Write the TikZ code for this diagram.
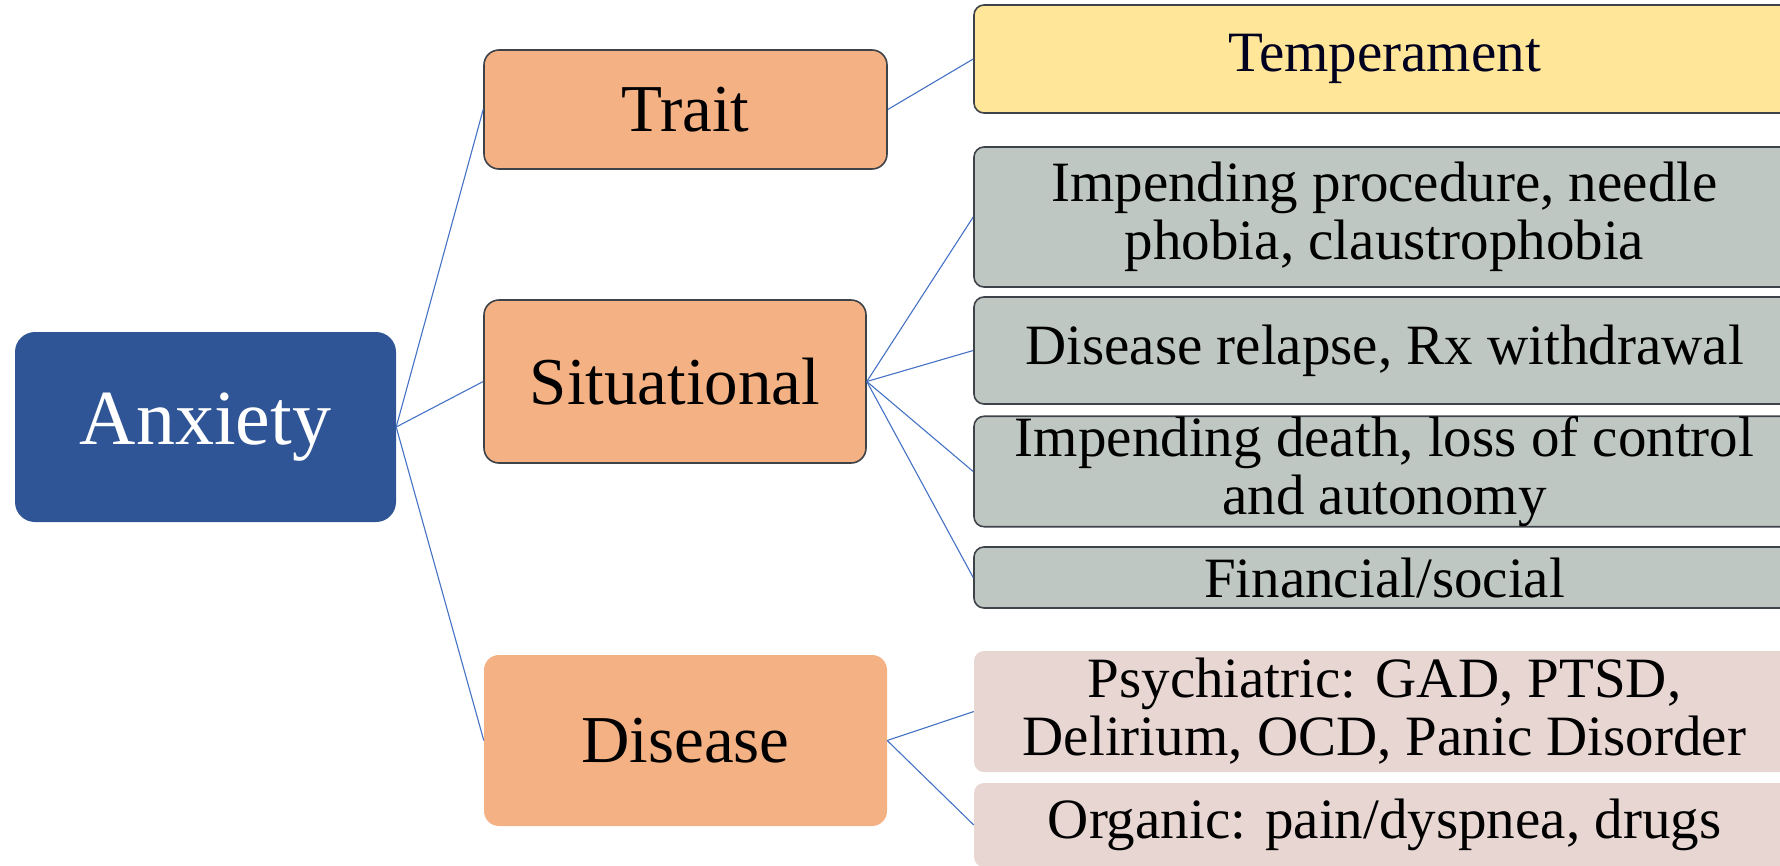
\documentclass[tikz,border=0pt]{standalone}
\usepackage{fontspec}
\setmainfont{Liberation Serif}
\definecolor{rootblue}{HTML}{2F5597}
\definecolor{catorange}{HTML}{F4B183}
\definecolor{tempyellow}{HTML}{FFE699}
\definecolor{sitgray}{HTML}{BFC7C3}
\definecolor{dispink}{HTML}{E8D6D3}
\definecolor{edgedark}{HTML}{3E434A}
\definecolor{linkblue}{HTML}{4472C4}
\begin{document}
\begin{tikzpicture}[x=1pt,y=-1pt,
  box/.style={rectangle, inner sep=0pt, align=center, anchor=center},
  rootbox/.style={box, fill=rootblue, rounded corners=20pt, text=white,
    font=\fontsize{78}{84}\selectfont},
  catbox/.style={box, fill=catorange, rounded corners=15pt, text=black,
    font=\fontsize{67}{72}\selectfont},
  leafbox/.style={box, rounded corners=10pt, text=black,
    font=\fontsize{57}{58}\selectfont},
  edged/.style={draw=edgedark, line width=1.6pt},
  link/.style={draw=linkblue, line width=1.1pt}
]
\useasboundingbox (0,0) rectangle (1780,865);
\clip (0,0) rectangle (1780,865);

% root
\node[rootbox, minimum width=381pt, minimum height=190pt] (anx) at (205.5,427) {Anxiety};

% categories
\node[catbox, edged, minimum width=403pt, minimum height=119pt] (trait) at (685.5,109.5) {Trait};
\node[catbox, edged, minimum width=382pt, minimum height=163pt] (sit) at (675,381.5) {Situational};
\node[catbox, minimum width=403pt, minimum height=171pt] (dis) at (685.5,740.5) {Disease};

% leaves
\node[leafbox, edged, fill=tempyellow, text=black!80!blue!60!black, minimum width=821pt, minimum height=108pt] (temp) at (1384.5,59) {Temperament};
\node[leafbox, edged, fill=sitgray, minimum width=821pt, minimum height=140pt] (proc) at (1384.5,217) {Impending procedure, needle\\phobia, claustrophobia};
\node[leafbox, edged, fill=sitgray, minimum width=821pt, minimum height=107pt] (rel) at (1384.5,350.5) {Disease relapse, Rx withdrawal};
\node[leafbox, edged, fill=sitgray, minimum width=821pt, minimum height=109pt] (death) at (1384.5,471.5) {Impending death, loss of control\\and autonomy};
\node[leafbox, edged, fill=sitgray, minimum width=821pt, minimum height=61pt] (fin) at (1384.5,577.5) {Financial/social};
\node[leafbox, fill=dispink, minimum width=821pt, minimum height=121pt] (psy) at (1384.5,711.5) {Psychiatric: GAD, PTSD,\\Delirium, OCD, Panic Disorder};
\node[leafbox, fill=dispink, minimum width=821pt, minimum height=84pt] (org) at (1384.5,825) {Organic: pain/dyspnea, drugs};

% connectors
\draw[link] (anx.east) -- (trait.west);
\draw[link] (anx.east) -- (sit.west);
\draw[link] (anx.east) -- (dis.west);
\draw[link] (trait.east) -- (temp.west);
\draw[link] (sit.east) -- (proc.west);
\draw[link] (sit.east) -- (rel.west);
\draw[link] (sit.east) -- (death.west);
\draw[link] (sit.east) -- (fin.west);
\draw[link] (dis.east) -- (psy.west);
\draw[link] (dis.east) -- (org.west);
\end{tikzpicture}
\end{document}
